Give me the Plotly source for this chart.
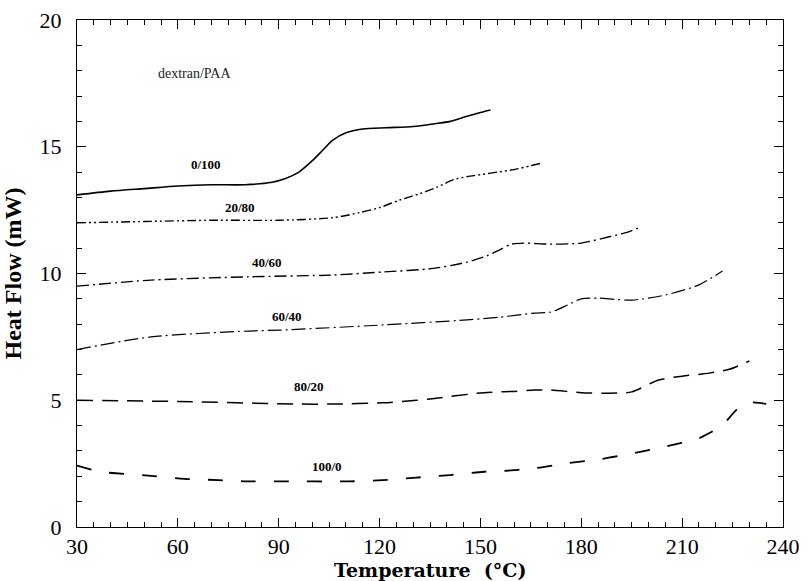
import plotly.graph_objects as go

# ---- data ----
t_0_100 = [30, 40, 50, 60, 70, 80, 88, 92, 96, 100, 103, 106, 110, 115, 122, 130, 136, 141, 146, 150, 153]
v_0_100 = [13.1, 13.25, 13.35, 13.45, 13.5, 13.5, 13.6, 13.75, 14.0, 14.45, 14.85, 15.25, 15.55, 15.7, 15.75, 15.8, 15.9, 16.0, 16.2, 16.35, 16.45]

t_20_80 = [30, 50, 70, 90, 106, 114, 120, 126, 132, 137, 142, 146, 150, 155, 160, 165, 168]
v_20_80 = [12.0, 12.05, 12.1, 12.1, 12.2, 12.4, 12.6, 12.9, 13.15, 13.4, 13.7, 13.82, 13.9, 14.0, 14.1, 14.25, 14.35]

t_40_60 = [30, 52, 81, 106, 121, 136, 146, 152, 156, 159, 163, 170, 180, 188, 193, 198]
v_40_60 = [9.5, 9.74, 9.87, 9.94, 10.06, 10.2, 10.45, 10.7, 10.95, 11.15, 11.2, 11.16, 11.2, 11.44, 11.6, 11.85]

t_60_40 = [30, 52, 81, 91, 121, 146, 156, 166, 171, 176, 180, 185, 190, 195, 205, 215, 222]
v_60_40 = [7.0, 7.5, 7.73, 7.77, 7.97, 8.17, 8.28, 8.44, 8.48, 8.76, 9.0, 9.03, 8.98, 8.95, 9.15, 9.55, 10.1]

t_80_20 = [30, 60, 96, 106, 121, 131, 135, 151, 160, 166, 171, 180, 188, 195, 203, 210, 218, 224, 230]
v_80_20 = [5.0, 4.95, 4.85, 4.85, 4.9, 5.0, 5.05, 5.3, 5.35, 5.4, 5.4, 5.3, 5.28, 5.33, 5.8, 5.95, 6.07, 6.22, 6.55]

t_100_0 = [30, 37, 52, 62, 72, 82, 91, 111, 121, 131, 141, 151, 156, 166, 176, 186, 195, 205, 215, 218, 222, 226, 229, 233, 235]
v_100_0 = [2.42, 2.18, 2.02, 1.9, 1.85, 1.8, 1.8, 1.8, 1.85, 1.95, 2.05, 2.18, 2.2, 2.32, 2.52, 2.68, 2.9, 3.17, 3.5, 3.7, 4.02, 4.6, 4.9, 4.9, 4.85]

series_names = ["0/100", "20/80", "40/60", "60/40", "80/20", "100/0"]
label_t = [68.5, 78.5, 86.5, 92.5, 99, 104.5]
label_v = [14.3, 12.6, 10.45, 8.3, 5.56, 2.37]

x_ticks = [30, 60, 90, 120, 150, 180, 210, 240]
y_ticks = [0, 5, 10, 15, 20]

x_title = "Temperature  (°C)"
y_title = "Heat Flow (mW)"

# ---- styling ----
SERIF = "Liberation Serif, Times New Roman, serif"
series = [
    (t_0_100, v_0_100, "solid", 1.6),
    (t_20_80, v_20_80, "9px,3px,2px,3px,2px,3px", 1.4),
    (t_40_60, v_40_60, "12px,4px,2px,4px", 1.4),
    (t_60_40, v_60_40, "14px,4px,2px,4px", 1.2),
    (t_80_20, v_80_20, "16px,9px", 1.5),
    (t_100_0, v_100_0, "15px,18px", 1.8),
]
x_range = [x_ticks[0], x_ticks[-1]]
y_range = [y_ticks[0], y_ticks[-1]]

fig = go.Figure()
for (t, v, dash, w), name in zip(series, series_names):
    fig.add_trace(go.Scatter(
        x=t, y=v, mode="lines", name=name,
        line=dict(color="black", width=w, dash=dash, shape="spline", smoothing=0.7),
        showlegend=False, hoverinfo="skip"))

# invisible helper trace so the top / right frame axes (with inward ticks) are drawn
fig.add_trace(go.Scatter(x=x_range, y=y_range, xaxis="x2", yaxis="y2", mode="lines",
                         line=dict(width=0), opacity=0, showlegend=False, hoverinfo="skip"))

for name, tx, vy in zip(series_names, label_t, label_v):
    fig.add_annotation(x=tx, y=vy, text=name, showarrow=False,
                       font=dict(family=SERIF, size=13, color="black", weight="bold"))

fig.add_annotation(x=65, y=17.9, text="dextran/PAA", showarrow=False,
                   font=dict(family=SERIF, size=14, color="#222"))

# x-axis title placed just under the tick labels
fig.add_annotation(x=0.5, xref="paper", y=-0.085, yref="paper", yanchor="middle",
                   text=x_title, showarrow=False,
                   font=dict(family="DejaVu Serif, serif", size=19, color="black", weight="bold"))

axis_common = dict(
    showline=True, linecolor="black", linewidth=1,
    ticks="inside", ticklen=9, tickwidth=1, tickcolor="black",
    showgrid=False, zeroline=False, automargin=False,
    tickfont=dict(family=SERIF, size=22, color="black"),
)
x_minor = dict(dtick=5, tick0=30, ticks="inside", ticklen=5, tickcolor="black", showgrid=False)
y_minor = dict(dtick=1, tick0=0, ticks="inside", ticklen=5, tickcolor="black", showgrid=False)

fig.update_layout(
    width=807, height=581,
    margin=dict(l=77, r=24, t=20, b=54),
    plot_bgcolor="white", paper_bgcolor="white",
    xaxis=dict(range=x_range, tickvals=x_ticks, ticktext=[str(t) for t in x_ticks],
               minor=x_minor, ticklabelstandoff=0, **axis_common),
    yaxis=dict(range=y_range, tickvals=y_ticks, ticktext=[str(t) for t in y_ticks],
               minor=y_minor, ticklabelstandoff=10,
               title=dict(text=y_title, standoff=12,
                          font=dict(family=SERIF, size=24, color="black", weight="bold")),
               **axis_common),
    xaxis2=dict(range=x_range, tickvals=x_ticks, showticklabels=False, minor=x_minor,
                overlaying="x", side="top", anchor="y", **axis_common),
    yaxis2=dict(range=y_range, tickvals=y_ticks, showticklabels=False, minor=y_minor,
                overlaying="y", side="right", anchor="x", **axis_common),
)

# remove the default page margin so the figure sits at the window's top-left corner
fig.write_html("out.html", config={"displayModeBar": False},
               post_script="document.body.style.margin='0';document.body.style.overflow='hidden';")
